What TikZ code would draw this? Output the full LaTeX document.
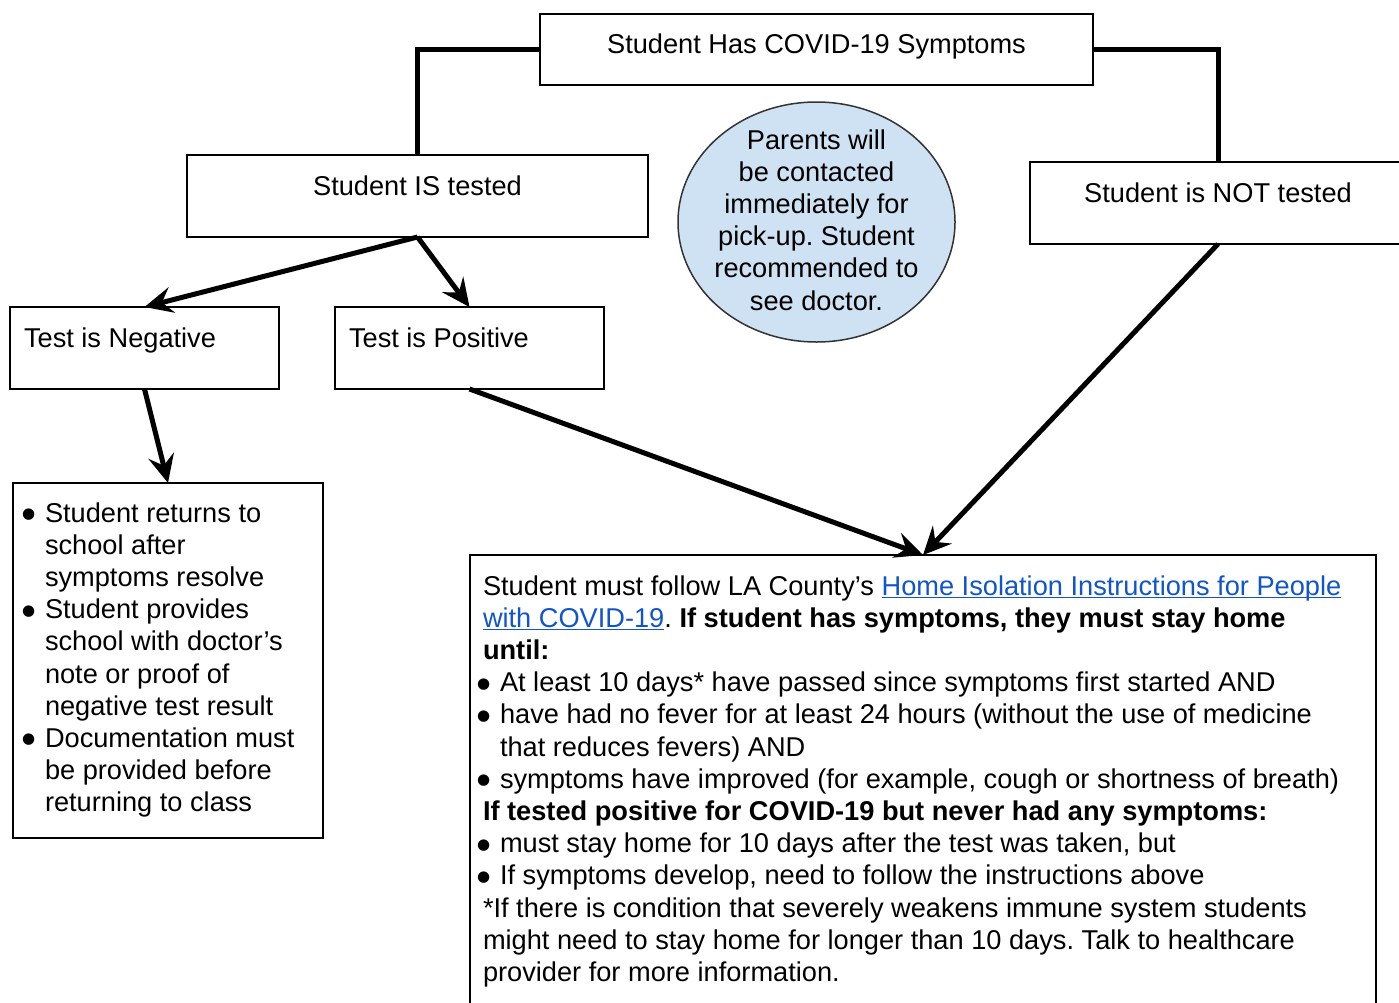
\documentclass[tikz,border=0pt]{standalone}
\usepackage{fontspec}
\setmainfont{Liberation Sans}
\newfontfamily\symfont{DejaVu Sans}
\usetikzlibrary{arrows.meta,shapes.geometric}
\definecolor{linkblue}{HTML}{1155CC}
\definecolor{bubble}{HTML}{CFE2F3}
\frenchspacing
\newcommand\mylines[1]{\vtop{\baselineskip=32.2pt\lineskiplimit=-100pt\lineskip=0pt #1}}
\newcommand\bul{\makebox[23pt][l]{\raisebox{3.5pt}{\symfont\fontsize{15}{15}\selectfont ●}}}
\newcommand\cl[1]{\hbox to 0pt{\hss #1\hss}}
\newcommand\mylink[1]{\setbox0=\hbox{#1}\rlap{\textcolor{linkblue}{\rule[-3pt]{\wd0}{1.5pt}}}\textcolor{linkblue}{#1}}
\begin{document}
\begin{tikzpicture}[x=1pt,y=-1pt,
  every node/.style={inner sep=0pt, outer sep=0pt},
  box/.style={draw=black, line width=2pt, fill=white, rectangle, anchor=north west},
  conn/.style={line width=5pt},
  arr/.style={conn, -{Stealth[length=28pt,width=26pt,inset=10pt]}},
  txt/.style={font=\fontsize{27.2}{32.2}\selectfont\frenchspacing, text=black},
]
\useasboundingbox (0,0) rectangle (1399,1002);
\clip (0,0) rectangle (1399,1002);

% boxes
\node[box, minimum width=553pt, minimum height=71pt] (top) at (540,14) {};
\node[box, minimum width=461pt, minimum height=82pt] (istested) at (187,155) {};
\node[box, minimum width=376pt, minimum height=82pt] (nottested) at (1030,162) {};
\node[box, minimum width=269pt, minimum height=82pt] (neg) at (10,307) {};
\node[box, minimum width=269pt, minimum height=82pt] (pos) at (335,307) {};
\node[box, minimum width=310pt, minimum height=355pt] (left) at (13,483) {};
\node[box, minimum width=906pt, minimum height=460pt] (big) at (470,555) {};
\node[ellipse, draw=black!80, line width=1.5pt, fill=bubble, minimum width=277pt, minimum height=240pt] (bubble) at (816.5,222) {};

% connectors
\draw[conn] (top.west) -| (istested.north);
\draw[conn] (top.east) -| (nottested.north);
\draw[arr] (istested.south) -- (neg.north);
\draw[arr] (istested.south) -- (pos.north);
\draw[arr] (neg.south) -- (left.north);
\draw[arr] (pos.south) -- (big.north);
\draw[arr] (nottested.south) -- (big.north);

% texts
\node[txt, anchor=base] (ttop) at (816.5,53) {Student Has COVID-19 Symptoms};
\node[txt, anchor=base] (tis) at (417.5,195) {Student IS tested};
\node[txt, anchor=base] (tnot) at (1218,202) {Student is NOT tested};
\node[txt, anchor=base west] (tneg) at (24,347) {Test is Negative};
\node[txt, anchor=base west] (tpos) at (349,347) {Test is Positive};

\node[txt, anchor=base] (tbubble) at (816.5,149) {\mylines{%
  \cl{Parents will}
  \cl{be contacted}
  \cl{immediately for}
  \cl{pick-up. Student}
  \cl{recommended to}
  \cl{see doctor.}}};

\node[txt, anchor=base west] (tleft) at (22,522) {\mylines{%
  \hbox{\bul Student returns to}
  \hbox{\kern23pt school after}
  \hbox{\kern23pt symptoms resolve}
  \hbox{\bul Student provides}
  \hbox{\kern23pt school with doctor’s}
  \hbox{\kern23pt note or proof of}
  \hbox{\kern23pt negative test result}
  \hbox{\bul Documentation must}
  \hbox{\kern23pt be provided before}
  \hbox{\kern23pt returning to class}}};

\node[txt, anchor=base west] (tbig) at (483,595) {\mylines{%
  \hbox{Student must follow LA County’s \mylink{Home Isolation Instructions for People}}
  \hbox{\mylink{with COVID-19}. \textbf{If student has symptoms, they must stay home}}
  \hbox{\textbf{until:}}
  \hbox{\kern-6pt\bul At least 10 days* have passed since symptoms first started AND}
  \hbox{\kern-6pt\bul have had no fever for at least 24 hours (without the use of medicine}
  \hbox{\kern17pt that reduces fevers) AND}
  \hbox{\kern-6pt\bul symptoms have improved (for example, cough or shortness of breath)}
  \hbox{\textbf{If tested positive for COVID-19 but never had any symptoms:}}
  \hbox{\kern-6pt\bul must stay home for 10 days after the test was taken, but}
  \hbox{\kern-6pt\bul If symptoms develop, need to follow the instructions above}
  \hbox{*If there is condition that severely weakens immune system students}
  \hbox{might need to stay home for longer than 10 days. Talk to healthcare}
  \hbox{provider for more information.}}};
\end{tikzpicture}
\end{document}
